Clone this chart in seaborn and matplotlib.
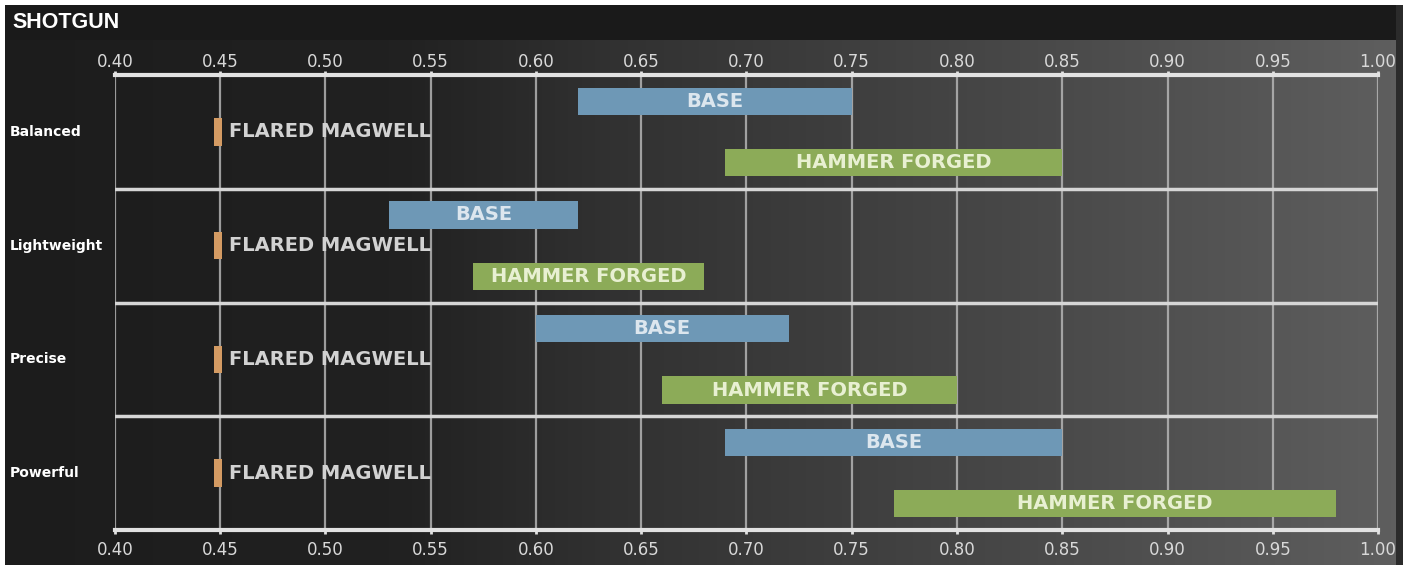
import numpy as np
import matplotlib
matplotlib.use("Agg")
import matplotlib.pyplot as plt
import matplotlib.transforms as mtransforms
import pandas as pd
import seaborn as sns

sns.set_theme(style="dark")
plt.rcParams['font.family'] = ['DejaVu Sans']

# data
categories = ["Balanced", "Lightweight", "Precise", "Powerful"]
base_start = [0.62, 0.53, 0.60, 0.69]
base_end = [0.75, 0.62, 0.72, 0.85]
magwell_start = [0.447, 0.447, 0.447, 0.447]
magwell_end = [0.451, 0.451, 0.451, 0.451]
hammer_start = [0.69, 0.57, 0.66, 0.77]
hammer_end = [0.85, 0.68, 0.80, 0.98]
x_ticks = [0.40, 0.45, 0.50, 0.55, 0.60, 0.65, 0.70, 0.75, 0.80, 0.85, 0.90, 0.95, 1.00]

rows = []
for i, cat in enumerate(categories):
    rows.append(dict(cat=cat, part="BASE", start=base_start[i], end=base_end[i], offset=-0.27))
    rows.append(dict(cat=cat, part="FLARED MAGWELL", start=magwell_start[i], end=magwell_end[i], offset=0.0))
    rows.append(dict(cat=cat, part="HAMMER FORGED", start=hammer_start[i], end=hammer_end[i], offset=0.27))
df = pd.DataFrame(rows)
df["y"] = df["cat"].map({c: i for i, c in enumerate(categories)}) + df["offset"]

colors = {"BASE": "#6e98b6", "FLARED MAGWELL": "#d49b63", "HAMMER FORGED": "#8cab58"}
text_colors = {"BASE": "#dce6ee", "FLARED MAGWELL": "#d2d2d2", "HAMMER FORGED": "#e8f0d2"}

W, H = 1411, 567
fig = plt.figure(figsize=(W / 100, H / 100), dpi=100)

# background: white frame, dark title strip, grey gradient
bg = np.ones((H, W, 3))
xs = np.arange(W)
shade = np.interp(xs, [0, 400, 600, 1100, 1396], [0.11, 0.13, 0.19, 0.30, 0.37])
bg[:, :, :] = shade[None, :, None]
bg[5:40, :, :] = 0.105
bg[:, 1396:1403, :] = 0.17
bg[:5, :, :] = 1.0
bg[:, :5, :] = 1.0
bg[:, 1403:, :] = 1.0
bg[565:, :, :] = 1.0
bax = fig.add_axes([0, 0, 1, 1], zorder=0)
bax.imshow(bg, aspect="auto", extent=[0, W, H, 0])
bax.axis("off")

fig.text(12 / W, 1 - 22 / H, "SHOTGUN", color="white", fontsize=15.5, fontweight="bold",
         family=["Liberation Sans", "DejaVu Sans"], va="center", ha="left")

ax = fig.add_axes([115 / W, 1 - 530 / H, (1378 - 115) / W, (530 - 75) / H], zorder=1)
ax.patch.set_alpha(0)

for part, grp in df.groupby("part", sort=False):
    ax.barh(grp["y"], grp["end"] - grp["start"], left=grp["start"], height=0.24,
            color=colors[part], edgecolor="none", linewidth=0, zorder=3)
    for _, r in grp.iterrows():
        if part == "FLARED MAGWELL":
            ax.text(r["end"] + 0.003, r["y"], part, color=text_colors[part], fontsize=14,
                    fontweight="bold", va="center", ha="left", zorder=4)
        else:
            ax.text((r["start"] + r["end"]) / 2, r["y"], part, color=text_colors[part], fontsize=14,
                    fontweight="bold", va="center", ha="center", zorder=4)

ax.set_xlim(0.40, 1.00)
ax.set_ylim(3.5, -0.5)
ax.set_xticks(x_ticks)
ax.set_xticklabels([f"{t:.2f}" for t in x_ticks])
ax.set_yticks([])
for t in x_ticks:
    ax.axvline(t, color="#bcbcbc", lw=1.6, alpha=0.8, zorder=1)
for sep in [0.5, 1.5, 2.5]:
    ax.axhline(sep, color="#d6d6d6", lw=2.5, zorder=2)

for side in ["left", "right"]:
    ax.spines[side].set_visible(False)
for side in ["top", "bottom"]:
    ax.spines[side].set_visible(True)
    ax.spines[side].set_color("#e2e2e2")
    ax.spines[side].set_linewidth(3)

ax.tick_params(axis="x", top=False, labeltop=False, bottom=True, labelbottom=True,
               colors="#e2e2e2", labelcolor="#d8d8d8", labelsize=12, length=3, width=2,
               direction="out", pad=5)
ax.grid(False)

top = ax.secondary_xaxis("top")
top.set_xticks(x_ticks)
top.set_xticklabels([f"{t:.2f}" for t in x_ticks])
top.spines["top"].set_visible(False)
top.tick_params(axis="x", colors="#e2e2e2", labelcolor="#d8d8d8", labelsize=12, length=3,
                width=2, direction="out", pad=0)

trans = mtransforms.blended_transform_factory(fig.transFigure, ax.transData)
for i, cat in enumerate(categories):
    ax.text(10 / W, i, cat, transform=trans, color="white", fontsize=10, fontweight="bold",
            va="center", ha="left")

fig.savefig("out.png", dpi=100)
